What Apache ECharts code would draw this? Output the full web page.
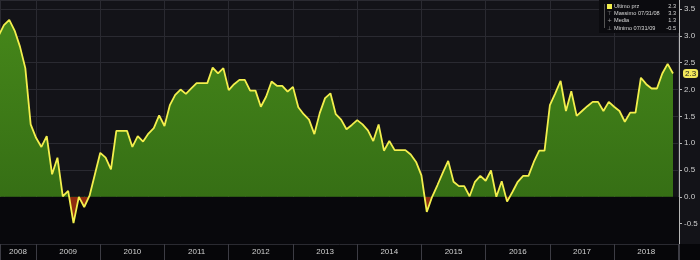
<!DOCTYPE html>
<html><head><meta charset="utf-8">
<script src="https://cdn.jsdelivr.net/npm/echarts@6/dist/echarts.min.js"></script>
<style>html,body{margin:0;padding:0;background:#131318}#c{width:700px;height:260px}</style>
</head><body><div id="c"></div><script>
const months = [
 '2008-05','2008-06','2008-07','2008-08','2008-09','2008-10','2008-11','2008-12',
 '2009-01','2009-02','2009-03','2009-04','2009-05','2009-06','2009-07','2009-08','2009-09','2009-10','2009-11','2009-12',
 '2010-01','2010-02','2010-03','2010-04','2010-05','2010-06','2010-07','2010-08','2010-09','2010-10','2010-11','2010-12',
 '2011-01','2011-02','2011-03','2011-04','2011-05','2011-06','2011-07','2011-08','2011-09','2011-10','2011-11','2011-12',
 '2012-01','2012-02','2012-03','2012-04','2012-05','2012-06','2012-07','2012-08','2012-09','2012-10','2012-11','2012-12',
 '2013-01','2013-02','2013-03','2013-04','2013-05','2013-06','2013-07','2013-08','2013-09','2013-10','2013-11','2013-12',
 '2014-01','2014-02','2014-03','2014-04','2014-05','2014-06','2014-07','2014-08','2014-09','2014-10','2014-11','2014-12',
 '2015-01','2015-02','2015-03','2015-04','2015-05','2015-06','2015-07','2015-08','2015-09','2015-10','2015-11','2015-12',
 '2016-01','2016-02','2016-03','2016-04','2016-05','2016-06','2016-07','2016-08','2016-09','2016-10','2016-11','2016-12',
 '2017-01','2017-02','2017-03','2017-04','2017-05','2017-06','2017-07','2017-08','2017-09','2017-10','2017-11','2017-12',
 '2018-01','2018-02','2018-03','2018-04','2018-05','2018-06','2018-07','2018-08','2018-09','2018-10','2018-11'
];
const values = [
 3.0, 3.2, 3.3, 3.1, 2.8, 2.4, 1.35, 1.1,
 0.93, 1.13, 0.42, 0.73, 0.01, 0.11, -0.49, 0.0, -0.19, 0.02, 0.42, 0.82,
 0.73, 0.51, 1.23, 1.23, 1.23, 0.93, 1.13, 1.03, 1.18, 1.28, 1.52, 1.32,
 1.71, 1.90, 2.0, 1.92, 2.02, 2.12, 2.12, 2.12, 2.41, 2.30, 2.40, 1.99,
 2.10, 2.18, 2.18, 1.98, 1.98, 1.68, 1.87, 2.15, 2.07, 2.07, 1.96, 2.05,
 1.67, 1.54, 1.44, 1.17, 1.56, 1.84, 1.93, 1.54, 1.44, 1.26, 1.34, 1.43,
 1.35, 1.24, 1.04, 1.35, 0.86, 1.04, 0.87, 0.87, 0.87, 0.79, 0.65, 0.4,
 -0.28, 0.0, 0.22, 0.45, 0.67, 0.28, 0.2, 0.2, 0.01, 0.28, 0.39, 0.3,
 0.49, 0.0, 0.29, -0.09, 0.09, 0.28, 0.39, 0.39, 0.65, 0.86, 0.86, 1.71,
 1.93, 2.16, 1.6, 1.97, 1.51, 1.6, 1.69, 1.77, 1.77, 1.6, 1.77, 1.68,
 1.6, 1.4, 1.57, 1.57, 2.22, 2.1, 2.02, 2.02, 2.3, 2.48, 2.3
];
const years = [2008,2009,2010,2011,2012,2013,2014,2015,2016,2017,2018];
const yTicks = [-0.5,0.0,0.5,1.0,1.5,2.0,2.5,3.0,3.5];
const legendLabels = ['Ultimo prz','Massimo 07/31/08','Media','Minimo 07/31/09'];
const legendValues = ['2.3','3.3','1.3','-0.5'];
const legendIcons = ['', '\u22A4', '+', '\u22A5'];

const X_MIN = 2008.439, X_MAX = 2019.01;
const Y_MIN = -0.88, Y_MAX = 3.67;
const GRID = {left: 0, right: 21, top: 0, bottom: 16};
const W = 700, H = 260;
const gridH = H - GRID.top - GRID.bottom;

const toX = s => { const [y, m] = s.split('-').map(Number); return y + m / 12; };
const seriesData = months.map((m, i) => [toX(m), values[i]]);
const yearLabelPos = years.map(y => (Math.max(y, X_MIN) + Math.min(y + 1, X_MAX)) / 2);
const lastVal = values[values.length - 1];
const zeroStop = Y_MAX / (Y_MAX - Y_MIN);

const chart = echarts.init(document.getElementById('c'), null, {renderer: 'canvas'});
const FONT = 'Liberation Sans';

const legendGraphics = [
  {type: 'rect', shape: {x: 599, y: 0, width: 80, height: 33}, style: {fill: '#0b0b0f'}, z: 10},
  {type: 'line', shape: {x1: 604.5, y1: 4, x2: 604.5, y2: 28}, style: {stroke: '#555', lineWidth: 1}, z: 11},
  {type: 'rect', shape: {x: 607, y: 4, width: 5, height: 5}, style: {fill: '#f2ee4c'}, z: 11}
];
legendLabels.forEach((t, i) => {
  const yc = 6.5 + i * 7.2;
  legendGraphics.push({type: 'text', x: 614, y: yc, z: 11, style: {text: t, fill: '#d8d8d8', font: '5.6px ' + FONT, textVerticalAlign: 'middle'}});
  legendGraphics.push({type: 'text', x: 676, y: yc, z: 11, style: {text: legendValues[i], fill: '#d8d8d8', font: '5.6px ' + FONT, textAlign: 'right', textVerticalAlign: 'middle'}});
  if (legendIcons[i]) legendGraphics.push({type: 'text', x: 609.5, y: yc, z: 11, style: {text: legendIcons[i], fill: '#999', font: '5.5px DejaVu Sans', textAlign: 'center', textVerticalAlign: 'middle'}});
});

const option = {
  backgroundColor: '#131318',
  animation: false,
  textStyle: {fontFamily: FONT},
  grid: Object.assign({containLabel: false, outerBoundsMode: 'none'}, GRID),
  axisPointer: {triggerOn: 'none'},
  graphic: [
    {type: 'rect', left: 0, bottom: 0, shape: {width: W, height: GRID.bottom}, style: {fill: '#060609'}, z: -1}
  ].concat(legendGraphics),
  xAxis: [
    {
      type: 'value', min: X_MIN, max: X_MAX, minInterval: 0.25, maxInterval: 0.25,
      axisLine: {show: true, lineStyle: {color: '#b8b8b8', width: 1}},
      axisTick: {show: true, length: 2, lineStyle: {color: '#b8b8b8'}},
      axisLabel: {show: true, customValues: yearLabelPos, formatter: v => String(Math.floor(v + 1e-9)), color: '#cfcfcf', fontSize: 8, margin: 4, fontFamily: FONT},
      splitLine: {show: false}
    },
    {
      type: 'value', min: X_MIN, max: X_MAX, minInterval: 1, maxInterval: 1, position: 'bottom',
      axisLine: {show: false},
      axisTick: {show: true, length: 16, lineStyle: {color: '#3c3c44'}},
      axisLabel: {show: false},
      splitLine: {show: true, lineStyle: {color: '#2a2a31', width: 1}}
    }
  ],
  yAxis: {
    type: 'value', position: 'right', min: Y_MIN, max: Y_MAX, minInterval: 0.5, maxInterval: 0.5,
    axisLine: {show: true, lineStyle: {color: '#b8b8b8'}},
    axisTick: {show: true, length: 3, lineStyle: {color: '#b8b8b8'}},
    axisLabel: {color: '#cfcfcf', fontSize: 8, margin: 5, fontFamily: FONT, showMinLabel: false, showMaxLabel: false,
      formatter: v => yTicks.some(t => Math.abs(t - v) < 1e-6) ? v.toFixed(1) : ''},
    splitLine: {show: true, lineStyle: {color: '#2a2a31', width: 1}},
    axisPointer: {
      show: true, value: lastVal, status: 'show', triggerTooltip: false, type: 'line',
      lineStyle: {opacity: 0},
      label: {show: true, backgroundColor: '#f1e75a', color: '#222', fontSize: 8, padding: [1, 2, 0, 2], margin: 4,
        formatter: p => Number(p.value).toFixed(1), fontFamily: FONT},
      handle: {show: false}
    }
  },
  series: [
    {
      type: 'line', data: [], z: 0, silent: true,
      markArea: {silent: true, itemStyle: {color: '#08080c'}, data: [[{yAxis: Y_MIN}, {yAxis: 0}]]}
    },
    {
      type: 'line', data: seriesData, z: 3, showSymbol: false, symbol: 'none', clip: true,
      lineStyle: {color: '#f3ef4d', width: 1.8},
      areaStyle: {
        opacity: 1,
        color: {type: 'linear', x: 0, y: GRID.top, x2: 0, y2: GRID.top + gridH, global: true,
          colorStops: [
            {offset: 0, color: '#47891a'},
            {offset: zeroStop - 0.0001, color: '#366f15'},
            {offset: zeroStop, color: '#8e2b10'},
            {offset: 1, color: '#8e2b10'}
          ]}
      }
    }
  ]
};
chart.setOption(option);
</script></body></html>
